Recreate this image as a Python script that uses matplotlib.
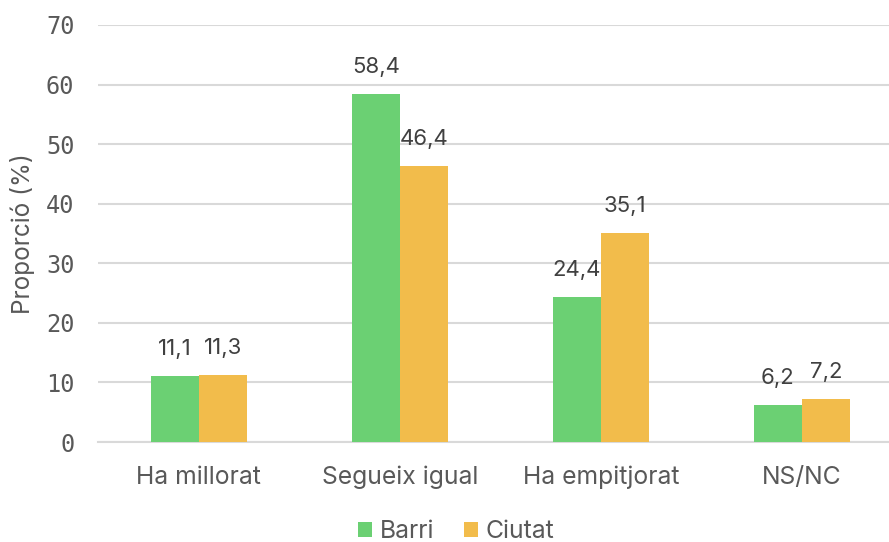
import matplotlib
matplotlib.use("Agg")
import matplotlib.pyplot as plt
import numpy as np

categories = ["Ha millorat", "Segueix igual", "Ha empitjorat", "NS/NC"]
barri = [11.1, 58.4, 24.4, 6.2]
ciutat = [11.3, 46.4, 35.1, 7.2]
series_names = ["Barri", "Ciutat"]
yticks = [0, 10, 20, 30, 40, 50, 60, 70]

GREEN = "#6BD073"
YELLOW = "#F2BC4B"
TEXT = "#595959"

plt.rcParams["font.family"] = ["Inter", "DejaVu Sans"]

fig = plt.figure(figsize=(8.89, 5.42), dpi=100)
ax = fig.add_axes([98 / 889, 100 / 542, 791 / 889, 417 / 542])

x = np.arange(len(categories))
w = 0.239
b1 = ax.bar(x - w / 2, barri, w, color=GREEN, label=series_names[0], zorder=3)
b2 = ax.bar(x + w / 2, ciutat, w, color=YELLOW, label=series_names[1], zorder=3)

for bars in (b1, b2):
    for rect in bars:
        h = rect.get_height()
        ax.annotate(f"{h:.1f}".replace(".", ","),
                    (rect.get_x() + rect.get_width() / 2, h),
                    xytext=(0, 12), textcoords="offset points",
                    ha="center", va="bottom", fontsize=16, color="#404040")

ax.set_xlim(-0.502, 3.433)
ax.set_ylim(0, 70)
ax.set_yticks(yticks)
ax.set_yticklabels([str(v) for v in yticks], family="DejaVu Sans Mono",
                   fontsize=17, color=TEXT)
ax.set_xticks(x)
ax.set_xticklabels(categories, fontsize=17.8, color=TEXT)
ax.tick_params(axis="both", length=0)
ax.tick_params(axis="x", pad=17)
ax.tick_params(axis="y", pad=17)
ax.set_ylabel("Proporció (%)", fontsize=17.5, color=TEXT, labelpad=8)

ax.grid(axis="y", color="#D9D9D9", linewidth=1.5, zorder=0)
for side in ("left", "right", "top"):
    ax.spines[side].set_visible(False)
ax.spines["bottom"].set_color("#D9D9D9")
ax.spines["bottom"].set_linewidth(1.5)

leg = ax.legend(loc="lower center", bbox_to_anchor=(456 / 889, -0.025), bbox_transform=fig.transFigure,
                ncol=2, frameon=False, fontsize=17.8, handlelength=0.57, handleheight=0.57,
                handletextpad=0.3, columnspacing=1.2, borderaxespad=0.1)
for t in leg.get_texts():
    t.set_color(TEXT)

plt.savefig("out.png", dpi=100)
plt.close()
